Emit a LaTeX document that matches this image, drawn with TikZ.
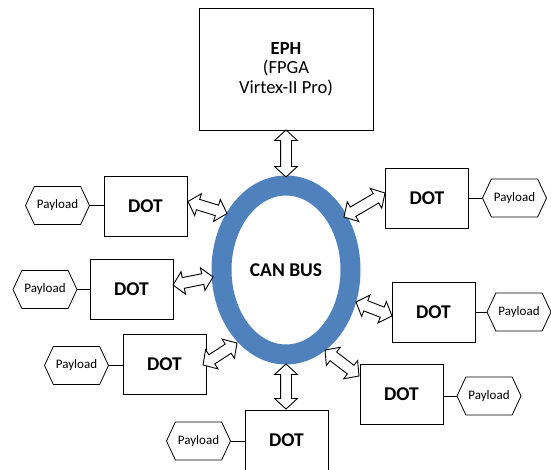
\documentclass[tikz,border=0pt]{standalone}
\usepackage{fontspec}
\setmainfont{Carlito}
\usetikzlibrary{shapes.geometric,shapes.arrows,shapes.symbols,calc}
\definecolor{ringblue}{HTML}{4F81BD}
\newcommand{\blockarrow}[2]{\path let \p1=($(#2)-(#1)$), \n1={atan2(\y1,\x1)}, \n2={veclen(\x1,\y1)} in node[barrow, minimum height=\n2, rotate=\n1] at ($(#1)!0.5!(#2)$) {};}
\begin{document}
\begin{tikzpicture}[x=1pt,y=-1pt,
  dotbox/.style={draw, line width=0.9pt, minimum width=83, minimum height=60, inner sep=0pt, font=\fontsize{19.5}{22}\selectfont\bfseries},
  payload/.style={signal, signal to=east and west, signal pointer angle=130, draw, line width=0.8pt, minimum width=64, minimum height=38, inner sep=0pt, font=\fontsize{13}{15}\selectfont},
  barrow/.style={double arrow, draw=black, fill=white, line width=0.9pt, inner sep=0pt, text height=10pt, text depth=0pt, double arrow head extend=6pt, double arrow tip angle=95},
  link/.style={draw, line width=0.8pt}]
\useasboundingbox (0,0) rectangle (551,470);
% EPH
\node[draw, line width=0.9pt, minimum width=174, minimum height=122, inner sep=0pt, align=center, font=\fontsize{18.5}{19.5}\selectfont] (eph) at (286,69) {\textbf{EPH}\\(FPGA\\Virtex-II Pro)};
% bus ring
\node[ellipse, draw=ringblue, line width=20pt, minimum width=129, minimum height=169, inner sep=0pt, font=\fontsize{19.5}{22}\selectfont\bfseries] (bus) at (286,270) {CAN BUS};
% DOT boxes
\node[dotbox] (d1) at (145.5,206) {DOT};
\node[dotbox] (d2) at (131.5,289) {DOT};
\node[dotbox] (d3) at (164.5,364) {DOT};
\node[dotbox] (d4) at (286.5,440) {DOT};
\node[dotbox] (d5) at (427,198) {DOT};
\node[dotbox] (d6) at (433.5,312) {DOT};
\node[dotbox] (d7) at (401.5,394.5) {DOT};
% payloads
\node[payload] (p1) at (57.5,205.5) {Payload};
\node[payload] (p2) at (45,289.5) {Payload};
\node[payload] (p3) at (76.5,365.5) {Payload};
\node[payload] (p4) at (198.5,441) {Payload};
\node[payload] (p5) at (514.5,198) {Payload};
\node[payload] (p6) at (519,312) {Payload};
\node[payload] (p7) at (489,396) {Payload};
\draw[link] (p1.east) -- (d1.west|-p1.east);
\draw[link] (p2.east) -- (d2.west|-p2.east);
\draw[link] (p3.east) -- (d3.west|-p3.east);
\draw[link] (p4.east) -- (d4.west|-p4.east);
\draw[link] (d5.east|-p5.west) -- (p5.west);
\draw[link] (d6.east|-p6.west) -- (p6.west);
\draw[link] (d7.east|-p7.west) -- (p7.west);
% arrow end points
\coordinate (a0s) at (286,130); \coordinate (a0e) at (286,177);
\coordinate (a1s) at (188,201.5); \coordinate (a1e) at (227,213.5);
\coordinate (a2s) at (173,285); \coordinate (a2e) at (213,277);
\coordinate (a3s) at (203,365); \coordinate (a3e) at (237,343);
\coordinate (a4s) at (286,364); \coordinate (a4e) at (286,409);
\coordinate (a5s) at (344,217); \coordinate (a5e) at (385,193);
\coordinate (a6s) at (356,302); \coordinate (a6e) at (392,316);
\coordinate (a7s) at (325,350); \coordinate (a7e) at (359,376);
\blockarrow{a0s}{a0e}
\blockarrow{a1s}{a1e}
\blockarrow{a2s}{a2e}
\blockarrow{a3s}{a3e}
\blockarrow{a4s}{a4e}
\blockarrow{a5s}{a5e}
\blockarrow{a6s}{a6e}
\blockarrow{a7s}{a7e}
\end{tikzpicture}
\end{document}
